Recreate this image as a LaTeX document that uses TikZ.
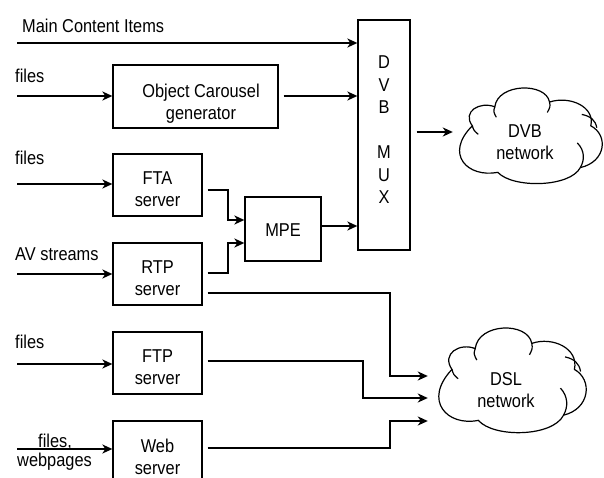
\documentclass[tikz,border=0pt]{standalone}
\usepackage{fontspec}
\setmainfont{Liberation Sans}[FakeStretch=0.88]
\usetikzlibrary{arrows.meta,calc}
\tikzset{
  cloudpic/.pic={
    \draw[cloudline] (0.13,0.40) .. controls (0.06,0.25) and (0.18,0.14) .. (0.28,0.20)
      .. controls (0.30,-0.05) and (0.62,-0.06) .. (0.645,0.15)
      .. controls (0.78,0.08) and (0.95,0.20) .. (0.92,0.40)
      .. controls (1.04,0.50) and (1.02,0.78) .. (0.85,0.84)
      .. controls (0.78,1.05) and (0.40,1.06) .. (0.30,0.89)
      .. controls (0.10,0.95) and (-0.06,0.70) .. (0.13,0.40) -- cycle;
    \draw[cloudline] (0.28,0.20) .. controls (0.27,0.25) .. (0.29,0.31);
    \draw[cloudline] (0.645,0.15) .. controls (0.65,0.20) .. (0.63,0.26);
    \draw[cloudline] (0.86,0.28) .. controls (0.92,0.30) and (0.95,0.34) .. (0.96,0.42);
    \draw[cloudline] (0.83,0.58) .. controls (0.88,0.66) and (0.88,0.76) .. (0.85,0.84);
    \draw[cloudline] (0.13,0.40) .. controls (0.14,0.45) .. (0.17,0.49);
  }
}
\begin{document}
\begin{tikzpicture}[x=1pt,y=-1pt,
  font=\fontsize{18.6}{22}\selectfont,
  box/.style={draw, line width=1.3pt, inner sep=0pt},
  arr/.style={line width=2pt, -{Stealth[length=10pt,width=9pt,inset=3pt]}},
  lbl/.style={anchor=base west, inner sep=0pt},
  txt/.style={align=center, inner sep=0pt},
  cloudline/.style={line width=1.2pt},
  netarea/.style={inner sep=0pt}]
\useasboundingbox (0,0) rectangle (604,478);

% boxes
\node[box, minimum width=165pt, minimum height=63pt] (oc) at (195.5,96.5) {};
\node[box, minimum width=89pt, minimum height=62pt] (fta) at (157.5,185) {};
\node[box, minimum width=89pt, minimum height=62pt] (rtp) at (157.5,274) {};
\node[box, minimum width=89pt, minimum height=62pt] (ftp) at (157.5,363) {};
\node[box, minimum width=89pt, minimum height=62pt] (web) at (157.5,452) {};
\node[box, minimum width=76pt, minimum height=64pt] (mpe) at (283,229) {};
\node[box, minimum width=52pt, minimum height=230pt] (mux) at (384,135) {};

% box texts
\node[txt] (toc) at (201,104) {Object Carousel\\generator};
\node[txt] (tfta) at (157.5,189.5) {FTA\\server};
\node[txt] (trtp) at (157.5,278.5) {RTP\\server};
\node[txt] (tftp) at (157.5,367.5) {FTP\\server};
\node[txt] (tweb) at (157.5,456.5) {Web\\server};
\node[txt] (tmpe) at (283,230) {MPE};
\node[txt, font=\fontsize{18.6}{22.5}\selectfont] (tmux) at (384,130) {D\\V\\B\\[22.5pt]M\\U\\X};

% clouds
\node[netarea, minimum width=150pt, minimum height=95pt] (dvbnet) at (528,135.5) {};
\node[netarea, minimum width=155pt, minimum height=104pt] (dslnet) at (509.5,380) {};
\begin{scope}[shift={(dvbnet.north west)}, x=150pt, y=-95pt]
  \pic {cloudpic};
\end{scope}
\begin{scope}[shift={(dslnet.north west)}, x=155pt, y=-104pt]
  \pic {cloudpic};
\end{scope}
\node[txt] (tdvb) at (525,142.5) {DVB\\network};
\node[txt] (tdsl) at (506,390) {DSL\\network};

% input labels
\node[lbl] (lmain) at (22,32.5) {Main Content Items};
\node[lbl] (lf1) at (15,83) {files};
\node[lbl] (lf2) at (15,165) {files};
\node[lbl] (lav) at (15,260) {AV streams};
\node[lbl] (lf3) at (15,348) {files};
\node[lbl] (lf4) at (38,447) {files,};
\node[lbl] (lwp) at (17,466.5) {webpages};

% input start points
\coordinate (in1) at (17,43);
\coordinate (in2) at (17,96);
\coordinate (in3) at (17,184);
\coordinate (in4) at (17,274);
\coordinate (in5) at (17,364);
\coordinate (in6) at (17,449);

% inputs
\draw[arr] (in1) -- (in1 -| mux.west);
\draw[arr] (in2) -- (in2 -| oc.west);
\draw[arr] (in3) -- (in3 -| fta.west);
\draw[arr] (in4) -- (in4 -| rtp.west);
\draw[arr] (in5) -- (in5 -| ftp.west);
\draw[arr] (in6) -- (in6 -| web.west);

% internal connectors
\draw[arr] ($(oc.east)+(5,-0.5)$) -- ($(oc.east -| mux.west)+(0,-0.5)$);
\draw[arr] ($(fta.east)+(5,5)$) -- ++(20,0) |- ($(mpe.west)+(0,-9)$);
\draw[arr] ($(rtp.east)+(5,-1)$) -- ++(20,0) |- ($(mpe.west)+(0,14)$);
\draw[arr] ($(mpe.east)+(0,-3)$) -- ($(mpe.east -| mux.west)+(0,-3)$);
\draw[arr] ($(mux.east)+(6,-3)$) -- ($(dvbnet.west)+(0,-3.5)$);

% to DSL
\draw[arr] ($(rtp.east)+(5,19)$) -- ++(182,0) |- ($(dslnet.west)+(-4,-4)$);
\draw[arr] ($(ftp.east)+(5,-2)$) -- ++(155,0) |- ($(dslnet.west)+(-4,18)$);
\draw[arr] ($(web.east)+(5,-4)$) -- ++(182,0) |- ($(dslnet.west)+(-4,41)$);
\end{tikzpicture}
\end{document}
